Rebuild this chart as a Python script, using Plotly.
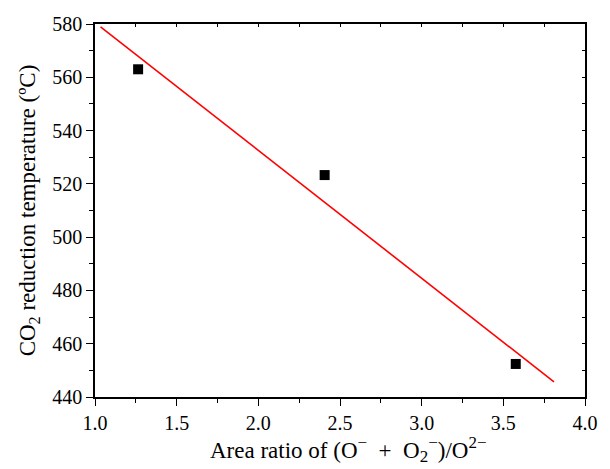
import plotly.graph_objects as go

area_ratio = [1.264, 2.406, 3.576]
co2_temp = [563.0, 523.3, 452.4]
fit_x = [1.034, 3.81]
fit_y = [578.9, 445.7]

x_range = [1.0, 4.0]
y_range = [440, 580]

fig = go.Figure()
fig.add_trace(go.Scatter(x=fit_x, y=fit_y, mode="lines",
                         line=dict(color="#ff0000", width=1.6), showlegend=False, hoverinfo="skip"))
fig.add_trace(go.Scatter(x=area_ratio, y=co2_temp, mode="markers",
                         marker=dict(symbol="square", size=10, color="black"), showlegend=False))
fig.add_trace(go.Scatter(x=[None], y=[None], xaxis="x2", yaxis="y2", showlegend=False))

font = "Liberation Serif"
sup_style = "font-size:17px"
x_title = ("Area ratio of (O<sup><span style='%s'>\u2212</span></sup>\u2002+\u2002"
           "O<sub><span style='%s'>2</span></sub><sup><span style='%s'>\u2212</span></sup>)/"
           "O<sup><span style='%s'>2\u2212</span></sup>") % (sup_style, sup_style, sup_style, sup_style)

fig.update_layout(
    width=610, height=469,
    margin=dict(l=95, r=15, t=24, b=72),
    plot_bgcolor="white", paper_bgcolor="white",
    font=dict(family=font, color="black", size=20),
    xaxis=dict(range=x_range, dtick=0.5, tick0=1.0, tickformat=".1f",
               showline=True, linecolor="black", linewidth=1.5, mirror=True,
               ticks="outside", ticklen=7, tickwidth=1.2, tickcolor="black",
               minor=dict(dtick=0.25, ticks="outside", ticklen=4, tickwidth=1.2, tickcolor="black"),
               showgrid=False, zeroline=False,
               tickfont=dict(family=font, size=20)),
    yaxis=dict(range=y_range, dtick=20, tick0=440,
               showline=True, linecolor="black", linewidth=1.5, mirror=True,
               ticks="outside", ticklen=7, tickwidth=1.2, tickcolor="black",
               minor=dict(dtick=10, ticks="outside", ticklen=4, tickwidth=1.2, tickcolor="black"),
               showgrid=False, zeroline=False,
               title=dict(text="CO<sub>2</sub> reduction temperature (ºC)",
                          font=dict(family=font, size=23), standoff=10),
               tickfont=dict(family=font, size=20)),
    xaxis2=dict(range=x_range, overlaying="x", side="top", dtick=0.5, tick0=1.0,
                showticklabels=False, ticks="inside", ticklen=3, tickwidth=1.2, tickcolor="black",
                minor=dict(dtick=0.25, ticks="inside", ticklen=3, tickwidth=1.2, tickcolor="black"),
                showgrid=False, zeroline=False, showline=False),
    yaxis2=dict(range=y_range, overlaying="y", side="right", dtick=20, tick0=440,
                showticklabels=False, ticks="inside", ticklen=3, tickwidth=1.2, tickcolor="black",
                minor=dict(dtick=10, ticks="inside", ticklen=3, tickwidth=1.2, tickcolor="black"),
                showgrid=False, zeroline=False, showline=False),
    annotations=[dict(text=x_title, xref="paper", yref="paper", x=0.23, y=-0.19,
                      xanchor="left", yanchor="bottom", showarrow=False,
                      font=dict(family=font, size=23, color="black"))],
)

fig.write_html("out.html")
